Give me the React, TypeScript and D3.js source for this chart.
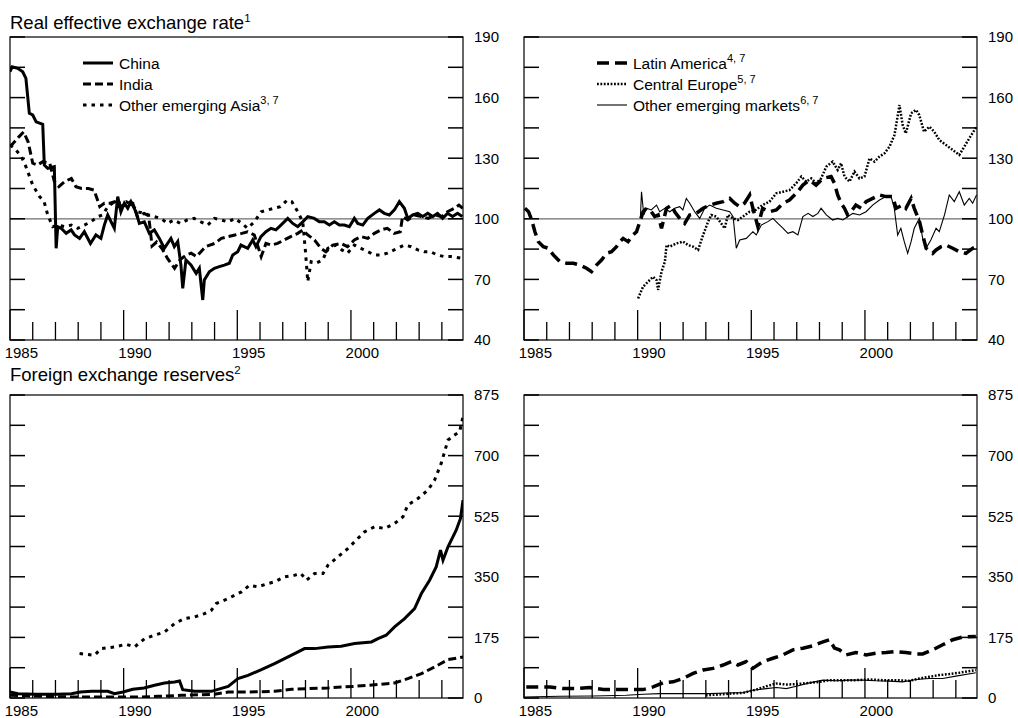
import React, { useEffect } from 'react';
import * as d3 from 'd3';

type Pt = [number, number];

// ---------- Axis / label values ----------
const yearLabels = [1985, 1990, 1995, 2000];
const reerTicks = [40, 70, 100, 130, 160, 190];
const reserveTicks = [0, 175, 350, 525, 700, 875];

// ---------- Real effective exchange rate (index) ----------
const chinaReer: Pt[] = [
  [1985.0, 172.8], [1985.1, 175.3], [1985.34, 174.5], [1985.56, 172.8], [1985.7, 169.5], [1985.85, 152.2],
  [1986.0, 151.4], [1986.15, 148], [1986.44, 146.8], [1986.51, 126.6], [1986.66, 125], [1986.95, 125.8],
  [1987.03, 85.4], [1987.1, 96.1], [1987.25, 95.3], [1987.47, 92.8], [1987.69, 94.5], [1987.84, 92],
  [1988.06, 90.3], [1988.27, 93.6], [1988.54, 87.8], [1988.78, 92], [1989.0, 90.3], [1989.15, 96.9],
  [1989.3, 101.9], [1989.59, 95.3], [1989.74, 111], [1989.88, 103.5], [1990.03, 107.7], [1990.18, 105.2],
  [1990.32, 108.5], [1990.54, 103.5], [1990.69, 97.7], [1990.91, 98.5], [1991.13, 92.8], [1991.35, 94.5],
  [1991.57, 90.3], [1991.79, 85.4], [1992.08, 90.3], [1992.23, 86.2], [1992.38, 88.7], [1992.52, 77.1],
  [1992.6, 65.6], [1992.74, 79.6], [1992.96, 77.1], [1993.19, 73], [1993.33, 75.5], [1993.48, 59.8],
  [1993.55, 69.7], [1993.77, 73.8], [1993.99, 75.5], [1994.21, 76.3], [1994.43, 77.1], [1994.65, 78],
  [1994.8, 82.1], [1995.02, 83.7], [1995.16, 87], [1995.46, 85.4], [1995.68, 89.5], [1995.82, 86.2],
  [1996.04, 91.2], [1996.26, 93.6], [1996.48, 95.3], [1996.7, 94.5], [1996.92, 96.9], [1997.22, 100.2],
  [1997.44, 97.7], [1997.66, 96.1], [1997.88, 98.5], [1998.1, 101.1], [1998.39, 100.2], [1998.61, 98.5],
  [1998.83, 98.5], [1999.05, 96.9], [1999.27, 98.5], [1999.49, 96.9], [1999.71, 96.9], [1999.93, 96.1],
  [2000.15, 100.2], [2000.3, 97.7], [2000.52, 96.9], [2000.74, 100.2], [2001.03, 102.7], [2001.25, 104.4],
  [2001.47, 102.7], [2001.69, 101.9], [2001.91, 104.4], [2002.13, 108.5], [2002.35, 105.2], [2002.5, 100.2],
  [2002.72, 101.9], [2002.94, 102.7], [2003.16, 101.1], [2003.38, 102.7], [2003.6, 101.1], [2003.81, 102.7],
  [2004.03, 100.2], [2004.25, 102.7], [2004.47, 101.1], [2004.69, 102.7], [2004.9, 101.1],
];

const indiaReer: Pt[] = [
  [1985.0, 135.7], [1985.2, 138.2], [1985.4, 140.7], [1985.6, 143], [1985.8, 138], [1986.0, 127.5],
  [1986.2, 126.6], [1986.45, 128.3], [1986.75, 127.5], [1986.95, 118.4], [1987.15, 115.9], [1987.4, 118.4],
  [1987.7, 120], [1987.9, 115.9], [1988.15, 115], [1988.45, 115], [1988.7, 114.2], [1988.95, 106],
  [1989.15, 107.7], [1989.4, 107.7], [1989.6, 108.5], [1989.8, 106], [1990.0, 106.8], [1990.2, 108.5],
  [1990.4, 107.7], [1990.6, 101.1], [1990.9, 102.7], [1991.1, 101.5], [1991.25, 86.5], [1991.45, 88.5],
  [1991.7, 85], [1991.95, 80], [1992.24, 75.5], [1992.5, 80], [1992.75, 82], [1992.97, 83],
  [1993.2, 81.3], [1993.4, 83.7], [1993.6, 86.2], [1994.0, 87.8], [1994.3, 90.3], [1994.6, 91.2],
  [1994.9, 92], [1995.2, 92.8], [1995.45, 93.6], [1995.75, 92], [1996.05, 81.3], [1996.26, 87.8],
  [1996.5, 87], [1996.77, 87.8], [1997.06, 89.5], [1997.35, 91.2], [1997.66, 92.8], [1997.88, 94.5],
  [1998.1, 92], [1998.4, 89.5], [1998.68, 85.4], [1998.9, 83.7], [1999.2, 87], [1999.56, 87.8],
  [1999.85, 86.2], [2000.15, 89.5], [2000.44, 91.2], [2000.74, 90.3], [2001.03, 92.8], [2001.32, 94.5],
  [2001.6, 95.3], [2001.9, 92.8], [2002.17, 93.6], [2002.27, 101.1], [2002.5, 99.4], [2002.8, 101.9],
  [2003.1, 101.1], [2003.4, 100.2], [2003.7, 101.9], [2004.0, 101.1], [2004.25, 103.5], [2004.55, 105.2],
  [2004.75, 106.8], [2004.92, 105.2],
];

const otherAsiaReer: Pt[] = [
  [1985.0, 136.5], [1985.2, 134.9], [1985.5, 130.8], [1985.7, 125.8], [1986.0, 116.7], [1986.3, 111],
  [1986.5, 108.5], [1986.66, 101.9], [1986.88, 96.1], [1987.1, 96.9], [1987.4, 96.1], [1987.7, 96.9],
  [1987.98, 95.3], [1988.27, 96.9], [1988.56, 98.5], [1988.86, 101.1], [1989.08, 101.9], [1989.3, 106],
  [1989.6, 108.5], [1989.8, 107.7], [1990.1, 108.5], [1990.4, 106.8], [1990.6, 103.5], [1990.9, 102.7],
  [1991.1, 101.9], [1991.35, 101.1], [1991.64, 100.2], [1991.93, 97.7], [1992.2, 99.4], [1992.5, 97.7],
  [1992.8, 99.4], [1993.1, 100.2], [1993.4, 98.5], [1993.7, 96.9], [1994.0, 100.2], [1994.3, 99.4],
  [1994.6, 98.5], [1994.9, 100.2], [1995.2, 97.7], [1995.45, 95.3], [1995.75, 98.5], [1996.05, 103.5],
  [1996.34, 104.4], [1996.6, 105.2], [1996.9, 106], [1997.2, 109.3], [1997.4, 108.5], [1997.66, 103.5],
  [1997.88, 98.5], [1998.0, 83.7], [1998.1, 68.9], [1998.25, 78.8], [1998.46, 78], [1998.76, 79.6],
  [1998.98, 85.4], [1999.34, 87], [1999.6, 84.6], [1999.85, 83], [2000.15, 87], [2000.44, 85.4],
  [2000.74, 83.7], [2001.03, 82.1], [2001.32, 82.1], [2001.6, 83], [2001.9, 84.6], [2002.35, 87],
  [2002.65, 86.2], [2002.94, 84.6], [2003.23, 83.7], [2003.5, 83.7], [2003.8, 82.1], [2004.1, 81.3],
  [2004.4, 81.3], [2004.92, 80.4],
];

const latamReer: Pt[] = [
  [1985.04, 105.2], [1985.2, 103.5], [1985.34, 99.4], [1985.48, 93.6], [1985.63, 88.7], [1985.85, 86.2],
  [1986.07, 85.4], [1986.29, 82.1], [1986.58, 78.8], [1986.87, 78], [1987.17, 78], [1987.46, 77.1],
  [1987.75, 75.5], [1987.97, 73.8], [1988.19, 77.1], [1988.41, 79.6], [1988.63, 82.9], [1988.85, 83.7],
  [1989.07, 86.2], [1989.22, 88.7], [1989.36, 90.3], [1989.58, 88.7], [1989.8, 92], [1989.95, 93.6],
  [1990.1, 98.6], [1990.24, 103.5], [1990.39, 105.2], [1990.6, 103.5], [1990.75, 101.1], [1990.9, 101.9],
  [1991.05, 95.3], [1991.27, 105.2], [1991.49, 106.8], [1991.63, 103.5], [1991.85, 100.2], [1992.07, 97.7],
  [1992.29, 101.9], [1992.58, 102.7], [1992.88, 105.2], [1993.17, 106.8], [1993.46, 107.7], [1993.76, 108.5],
  [1994.05, 110.1], [1994.27, 107.7], [1994.49, 106], [1994.7, 107.7], [1994.93, 111.8], [1995.07, 105.2],
  [1995.29, 96.1], [1995.5, 105.2], [1995.8, 103.5], [1996.1, 104.4], [1996.4, 107.7], [1996.68, 109.3],
  [1996.98, 112.6], [1997.27, 116.7], [1997.56, 119.2], [1997.85, 116.7], [1998.15, 120], [1998.51, 120.9],
  [1998.66, 117.6], [1998.8, 111.8], [1998.95, 107.7], [1999.1, 105.2], [1999.24, 101.9], [1999.39, 103.5],
  [1999.6, 106.8], [1999.83, 105.2], [2000.05, 108.5], [2000.34, 110.1], [2000.64, 111.8], [2000.93, 111],
  [2001.22, 111], [2001.37, 105.2], [2001.66, 106.8], [2001.8, 105.2], [2002.03, 110.1], [2002.17, 105.2],
  [2002.4, 98.6], [2002.54, 92], [2002.69, 85.4], [2002.98, 82.9], [2003.13, 84.6], [2003.35, 86.2],
  [2003.57, 87], [2003.86, 85.4], [2004.15, 83.7], [2004.44, 82.9], [2004.74, 85.4], [2004.91, 86.2],
];

const centralEuropeReer: Pt[] = [
  [1990.02, 60.6], [1990.24, 66.4], [1990.46, 68.9], [1990.68, 71.3], [1990.83, 69.7], [1990.9, 64.8],
  [1991.05, 73.8], [1991.2, 78.8], [1991.27, 87], [1991.41, 86.2], [1991.7, 87.8], [1992.0, 88.7],
  [1992.22, 87], [1992.44, 86.2], [1992.66, 84.6], [1992.88, 92], [1993.1, 98.6], [1993.24, 101.9],
  [1993.46, 101.1], [1993.68, 97.7], [1993.83, 95.3], [1993.97, 101.9], [1994.2, 100.2], [1994.41, 99.4],
  [1994.63, 101.1], [1994.93, 103.5], [1995.2, 104.4], [1995.5, 106.8], [1995.8, 108.5], [1996.1, 112.6],
  [1996.4, 113.4], [1996.68, 114.2], [1996.98, 117.6], [1997.2, 120.9], [1997.42, 118.4], [1997.64, 120],
  [1997.85, 117.6], [1998.07, 120], [1998.3, 125.8], [1998.58, 128.3], [1998.8, 124.2], [1998.95, 127.5],
  [1999.1, 120.9], [1999.32, 118.4], [1999.54, 123.4], [1999.76, 120], [1999.98, 120.9], [2000.2, 129.9],
  [2000.42, 128.3], [2000.64, 130.8], [2000.86, 132.4], [2001.08, 135.7], [2001.3, 141.5], [2001.52, 156.3],
  [2001.66, 146.4], [2001.8, 142.3], [2002.03, 152.2], [2002.25, 153.9], [2002.39, 151.4], [2002.6, 143.1],
  [2002.83, 145.6], [2003.05, 143.1], [2003.27, 139], [2003.57, 136.5], [2003.86, 134.1], [2004.15, 131.6],
  [2004.37, 135.7], [2004.59, 139.8], [2004.91, 145.6],
];

const otherEmReer: Pt[] = [
  [1990.12, 100.5], [1990.17, 113.4], [1990.27, 101.9], [1990.39, 105.2], [1990.6, 104.4], [1990.83, 106.8],
  [1990.97, 103.5], [1991.19, 105.2], [1991.41, 103.5], [1991.63, 105.2], [1991.85, 106], [1991.99, 104.4],
  [1992.14, 110.1], [1992.29, 107.7], [1992.51, 103.5], [1992.73, 100.2], [1992.95, 105.2], [1993.17, 106.8],
  [1993.46, 105.2], [1993.76, 104.4], [1994.05, 103.5], [1994.2, 101.1], [1994.34, 85.4], [1994.49, 89.5],
  [1994.78, 90.3], [1995.07, 93.6], [1995.22, 92], [1995.44, 96.9], [1995.73, 98.6], [1995.95, 100.2],
  [1996.17, 97.7], [1996.4, 95.3], [1996.61, 92.8], [1996.83, 93.6], [1997.05, 92], [1997.27, 101.1],
  [1997.5, 102.7], [1997.71, 101.1], [1997.93, 102.7], [1998.07, 105.2], [1998.3, 101.9], [1998.58, 99.4],
  [1998.8, 100.2], [1999.03, 99.4], [1999.25, 101.1], [1999.47, 102.7], [1999.76, 101.9], [2000.05, 103.5],
  [2000.34, 106.8], [2000.64, 109.3], [2000.93, 111], [2001.15, 111], [2001.29, 105.2], [2001.44, 92],
  [2001.58, 95.3], [2001.73, 88.7], [2001.88, 82.9], [2002.03, 88.7], [2002.17, 95.3], [2002.39, 100.2],
  [2002.54, 90.3], [2002.69, 85.4], [2002.9, 89.5], [2003.13, 95.3], [2003.27, 93.6], [2003.5, 101.9],
  [2003.71, 111.8], [2003.93, 108.5], [2004.15, 113.4], [2004.37, 106.8], [2004.59, 110.1], [2004.74, 107.7],
  [2004.91, 111.8],
];

// ---------- Foreign exchange reserves (billions of US dollars) ----------
const chinaRes: Pt[] = [
  [1985.0, 17.3], [1985.35, 12.5], [1986.1, 10.6], [1987.1, 10.6], [1987.7, 12.5], [1988.1, 17.3],
  [1988.6, 19.3], [1989.3, 19.3], [1989.6, 12.5], [1989.97, 17.3], [1990.4, 25], [1990.9, 28.9],
  [1991.36, 36.6], [1991.8, 43.4], [1992.24, 46.3], [1992.46, 49.1], [1992.6, 24.1], [1993.12, 19.3],
  [1993.86, 19.3], [1994.15, 25], [1994.6, 33.7], [1995.03, 55.9], [1995.47, 65.5], [1996.06, 81.9],
  [1996.64, 99.3], [1997.08, 113.7], [1997.52, 128.2], [1997.96, 142.6], [1998.4, 142.6], [1998.99, 147.4],
  [1999.57, 149.4], [2000.16, 157.1], [2000.9, 161.9], [2001.19, 171.5], [2001.55, 181.2], [2001.92, 205.3],
  [2002.36, 229.4], [2002.8, 258.3], [2003.1, 301.6], [2003.46, 340.2], [2003.75, 378.7], [2003.94, 426.9],
  [2004.05, 398], [2004.27, 436.6], [2004.63, 484.7], [2004.82, 518.5], [2004.93, 571.5],
];

const indiaRes: Pt[] = [
  [1985.0, 7.7], [1986.4, 4.8], [1987.85, 2.9], [1989.3, 2.9], [1990.78, 2.9], [1991.5, 4.8],
  [1992.54, 7.7], [1994.0, 10.6], [1994.6, 17.3], [1995.47, 17.3], [1996.64, 19.3], [1997.38, 25],
  [1998.1, 27], [1998.99, 28.9], [1999.57, 31.8], [2000.16, 33.7], [2000.75, 36.6], [2001.33, 39.5],
  [2001.92, 43.4], [2002.5, 55.9], [2003.1, 70.4], [2003.68, 89.6], [2004.27, 110.8], [2004.93, 118.5],
];

const otherAsiaRes: Pt[] = [
  [1988.06, 128.2], [1988.72, 123.4], [1989.0, 142.6], [1989.6, 147.4], [1990.1, 155.2], [1990.48, 147.4],
  [1990.92, 171.5], [1991.36, 181.2], [1991.8, 190.8], [1992.24, 214.9], [1992.68, 229.4], [1993.12, 234.2],
  [1993.56, 243.8], [1993.86, 253.5], [1994.07, 272.7], [1994.6, 287.2], [1995.18, 306.5], [1995.54, 325.7],
  [1995.9, 320.9], [1996.35, 330.5], [1996.64, 335.4], [1997.08, 349.8], [1997.52, 354.7], [1997.8, 359.5],
  [1998.04, 340.2], [1998.4, 359.5], [1998.77, 359.5], [1998.99, 383.6], [1999.43, 407.7], [1999.87, 431.7],
  [2000.3, 460.6], [2000.6, 479.9], [2001.04, 494.4], [2001.48, 489.6], [2001.92, 504], [2002.29, 523.3],
  [2002.5, 557], [2002.95, 576.3], [2003.39, 600.4], [2003.68, 629.3], [2003.97, 677.5], [2004.27, 745],
  [2004.56, 759.4], [2004.78, 769], [2004.93, 812.4],
];

const latamRes: Pt[] = [
  [1985.1, 32], [1985.56, 32], [1986.14, 32], [1986.73, 27.2], [1987.3, 27.2], [1987.9, 30.1],
  [1988.5, 24.3], [1989.07, 24.3], [1989.66, 24.3], [1990.24, 24.3], [1990.68, 32], [1991.12, 43.7],
  [1991.56, 46.7], [1992.0, 56.4], [1992.44, 71], [1992.88, 80.7], [1993.32, 85.6], [1993.76, 95.3],
  [1994.12, 105], [1994.41, 95.3], [1994.78, 105], [1995.07, 85.6], [1995.51, 105], [1995.95, 114.7],
  [1996.39, 124.4], [1996.83, 139], [1997.27, 143.9], [1997.7, 150.7], [1998.0, 158.5], [1998.22, 163.3],
  [1998.44, 168.2], [1998.66, 143.9], [1998.88, 139], [1999.17, 124.4], [1999.6, 131.2], [2000.05, 124.4],
  [2000.49, 129.3], [2000.93, 131.2], [2001.37, 134.2], [2001.8, 131.2], [2002.25, 127.4], [2002.54, 127.4],
  [2002.98, 139], [2003.42, 153.6], [2003.86, 168.2], [2004.3, 176], [2004.88, 177.9],
];

const centralEuropeRes: Pt[] = [
  [1993.0, 7.8], [1993.46, 9.7], [1994.05, 12.6], [1994.63, 14.6], [1995.22, 24.3], [1995.66, 34],
  [1996.1, 41.8], [1996.54, 38.9], [1996.98, 39.9], [1997.56, 43.7], [1998.0, 46.7], [1998.44, 51.5],
  [1999.03, 51.5], [1999.61, 51.5], [2000.2, 53.5], [2000.78, 51.5], [2001.37, 51.5], [2001.95, 49.6],
  [2002.4, 56.4], [2002.83, 61.2], [2003.27, 66.1], [2003.7, 69], [2004.15, 72.9], [2004.88, 80.7],
];

const otherEmRes: Pt[] = [
  [1985.0, 2.9], [1986.58, 4.9], [1988.05, 5.8], [1989.5, 7.8], [1990.24, 10.7], [1990.97, 12.6],
  [1991.7, 12.6], [1992.44, 12.6], [1993.17, 12.6], [1993.9, 14.6], [1994.63, 15.6], [1995.07, 22.4],
  [1995.66, 27.2], [1996.1, 30.1], [1996.54, 27.2], [1996.98, 34], [1997.56, 43.7], [1998.15, 51.5],
  [1998.73, 49.6], [1999.32, 51.5], [1999.9, 51.5], [2000.49, 49.6], [2001.08, 48.6], [2001.66, 46.7],
  [2002.25, 53.5], [2002.83, 56.4], [2003.42, 56.4], [2004.0, 63.2], [2004.88, 72.9],
];

// ---------- Styles ----------
const FONT = "'Liberation Sans', Arial, Helvetica, sans-serif";
const W = 453;
const H = 303;
const X_START = 1985;
const X_END = 2004.93;

type LineStyle = { width: number; dash?: string };
const sChina: LineStyle = { width: 3 };
const sIndia: LineStyle = { width: 3, dash: '8,4' };
const sOtherAsia: LineStyle = { width: 3, dash: '3.5,5' };
const sLatam: LineStyle = { width: 3.5, dash: '12,6' };
const sCentral: LineStyle = { width: 2.5, dash: '1.8,1.6' };
const sOtherEm: LineStyle = { width: 1.1 };

type Series = { data: Pt[]; style: LineStyle };
type LegendItem = { label: string; sup?: string; style: LineStyle };

type PanelProps = {
  id: string;
  x0: number;
  y0: number;
  yDomain: [number, number];
  minorStep: number;
  labels: number[];
  series: Series[];
  legend?: LegendItem[];
  refValue?: number;
};

function Panel({ id, x0, y0, yDomain, minorStep, labels, series, legend, refValue }: PanelProps) {
  const x = d3.scaleLinear().domain([X_START, X_END]).range([x0, x0 + W]);
  const y = d3.scaleLinear().domain(yDomain).range([y0 + H, y0]);
  const line = d3.line<Pt>().x((d) => x(d[0])).y((d) => y(d[1]));
  const minorTicks = d3.range(yDomain[0], yDomain[1] + 0.001, minorStep);
  const years = d3.range(1985, 2005);
  const bottom = y0 + H;

  return (
    <g>
      <defs>
        <clipPath id={`clip-${id}`}>
          <rect x={x0} y={y0} width={W} height={H} />
        </clipPath>
      </defs>
      {refValue !== undefined && (
        <line x1={x0} x2={x0 + W} y1={y(refValue)} y2={y(refValue)} stroke="#6e6e6e" strokeWidth={1.2} />
      )}
      <g clipPath={`url(#clip-${id})`}>
        {series.map((s, i) => (
          <path
            key={i}
            d={line(s.data) || ''}
            fill="none"
            stroke="#000"
            strokeWidth={s.style.width}
            strokeDasharray={s.style.dash}
            strokeLinejoin="miter"
            strokeLinecap="butt"
          />
        ))}
      </g>
      <rect x={x0} y={y0} width={W} height={H} fill="none" stroke="#000" strokeWidth={1.2} />
      {minorTicks.map((t) => (
        <g key={`yt${t}`}>
          <line x1={x0} x2={x0 + 15} y1={y(t)} y2={y(t)} stroke="#000" strokeWidth={1.5} />
          <line x1={x0 + W - 15} x2={x0 + W} y1={y(t)} y2={y(t)} stroke="#000" strokeWidth={1.5} />
        </g>
      ))}
      {labels.map((t) => (
        <text key={`yl${t}`} x={x0 + W + 11} y={y(t) + 5.3} fontSize={15} fontFamily={FONT} fill="#000">
          {t}
        </text>
      ))}
      {years.map((yr) => (
        <line
          key={`xt${yr}`}
          x1={x(yr)}
          x2={x(yr)}
          y1={bottom}
          y2={bottom - (yr % 5 === 0 ? 30 : 18)}
          stroke="#000"
          strokeWidth={1.3}
        />
      ))}
      {yearLabels.map((yr) => (
        <text
          key={`xl${yr}`}
          x={x(yr + 0.5)}
          y={bottom + 18}
          fontSize={15}
          fontFamily={FONT}
          textAnchor="middle"
          fill="#000"
        >
          {yr}
        </text>
      ))}
      {legend &&
        legend.map((item, i) => {
          const ly = y0 + 26 + i * 21;
          return (
            <g key={`lg${i}`}>
              <line
                x1={x0 + 73}
                x2={x0 + 103}
                y1={ly}
                y2={ly}
                stroke="#000"
                strokeWidth={item.style.width}
                strokeDasharray={item.style.dash}
              />
              <text x={x0 + 109} y={ly + 5.5} fontSize={15.5} fontFamily={FONT} fill="#000">
                {item.label}
                {item.sup && (
                  <tspan fontSize={11} dy={-6.5}>
                    {item.sup}
                  </tspan>
                )}
              </text>
            </g>
          );
        })}
    </g>
  );
}

export default function App() {
  useEffect(() => {
    document.body.style.margin = '0';
    document.body.style.overflow = 'hidden';
  }, []);

  return (
    <div style={{ position: 'fixed', left: 0, top: 0, width: 1018, height: 718, background: '#fff' }}>
      <svg width={1018} height={718} viewBox="0 0 1018 718" style={{ display: 'block' }}>
        <rect x={0} y={0} width={1018} height={718} fill="#fff" />
        <text x={10} y={29} fontSize={18.5} fontFamily={FONT} fill="#000">
          Real effective exchange rate
          <tspan fontSize={11.5} dy={-7}>1</tspan>
        </text>
        <text x={10} y={381} fontSize={18.5} fontFamily={FONT} fill="#000">
          Foreign exchange reserves
          <tspan fontSize={11.5} dy={-7}>2</tspan>
        </text>

        <Panel
          id="tl"
          x0={10}
          y0={37}
          yDomain={[40, 190]}
          minorStep={15}
          labels={reerTicks}
          refValue={100}
          series={[
            { data: otherAsiaReer, style: sOtherAsia },
            { data: indiaReer, style: sIndia },
            { data: chinaReer, style: sChina },
          ]}
          legend={[
            { label: 'China', style: sChina },
            { label: 'India', style: sIndia },
            { label: 'Other emerging Asia', sup: '3, 7', style: sOtherAsia },
          ]}
        />
        <Panel
          id="tr"
          x0={524}
          y0={37}
          yDomain={[40, 190]}
          minorStep={15}
          labels={reerTicks}
          refValue={100}
          series={[
            { data: centralEuropeReer, style: sCentral },
            { data: otherEmReer, style: sOtherEm },
            { data: latamReer, style: sLatam },
          ]}
          legend={[
            { label: 'Latin America', sup: '4, 7', style: sLatam },
            { label: 'Central Europe', sup: '5, 7', style: sCentral },
            { label: 'Other emerging markets', sup: '6, 7', style: sOtherEm },
          ]}
        />
        <Panel
          id="bl"
          x0={10}
          y0={395}
          yDomain={[0, 875]}
          minorStep={87.5}
          labels={reserveTicks}
          series={[
            { data: otherAsiaRes, style: sOtherAsia },
            { data: indiaRes, style: sIndia },
            { data: chinaRes, style: sChina },
          ]}
        />
        <Panel
          id="br"
          x0={524}
          y0={395}
          yDomain={[0, 875]}
          minorStep={87.5}
          labels={reserveTicks}
          series={[
            { data: centralEuropeRes, style: sCentral },
            { data: otherEmRes, style: sOtherEm },
            { data: latamRes, style: sLatam },
          ]}
        />
      </svg>
    </div>
  );
}
